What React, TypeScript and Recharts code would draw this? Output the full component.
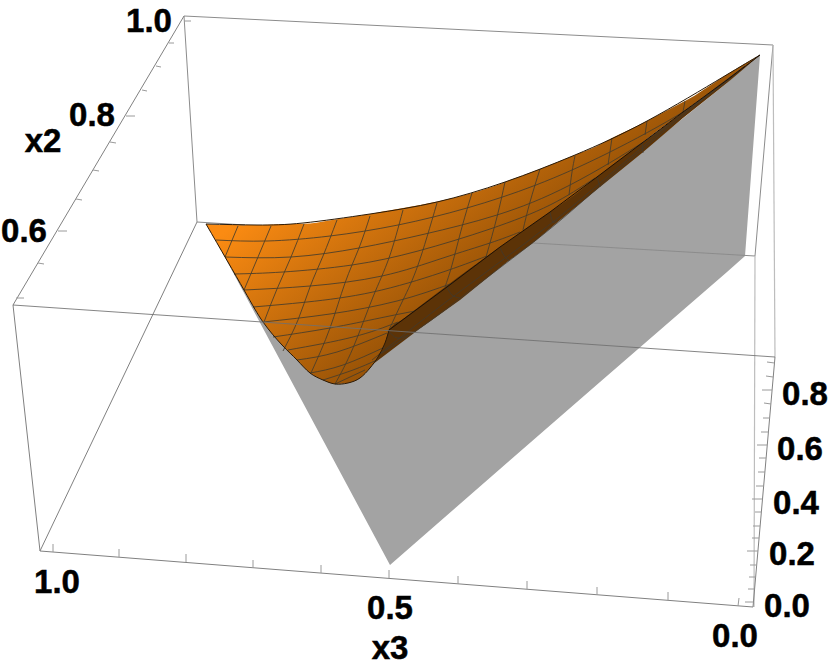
import React from "react";
import { ComposedChart, XAxis, YAxis, Area, Line, Scatter } from "recharts";

type Pt = [number, number];

// Projected picture coordinates (x across, y down)
const orangeX = [206,225,244,263,282,297,310,323,335,348,360,370,378,385,389,403,420,457,472,500,505,540,550,575,597,612,642,647,683,685,723,727,760];
const orangeTop = [224,225,225,225,224,224,223.5,221.5,219.5,217.5,215.5,214,212.5,211,210.5,208,205,197,193,184,182,169,165,155,146,138,123.5,121,102,101,77,74.5,55];
const orangeBottom = [224,257,290,322,345,360,373,380,384,383,378,368,357,343,330,319,306,278,267,247,243.5,219,212,194.5,177,165.5,143,139,112,110.5,83,80,55];

const brownX = [348,389,418,460,507,533,560,600,642,683,727,760];
const brownTop = [383,325,304,274,240,221,203,172,143,112,80,55];
const brownBottom = [383,352,330,300,262,243,220,187,153,118,83,55];

const grayX = [207,390,500,600,727,745,760];
const grayTop = [224,320,250,185,83,66,55];
const grayBottom = [224,565,469,382,272,256,55];

const edgeTop: Pt[] = [[206,224],[257,225],[303,223],[370,214],[437,202],[505,182],[575,155],[647,121],[723,77],[760,55]];
const edgeLower: Pt[] = [[206,224],[244,290],[263,322],[282,345],[297,360],[310,373],[323,380],[335,384],[348,383],[360,378],[370,368],[378,357],[385,343],[389,330]];
const edgeFold: Pt[] = [[389,330],[447,287],[500,247],[550,212],[597,177],[642,143],[683,112],[727,80],[760,55]];

const meshSteep: Pt[][] = [
  [[238,226],[225,257]],
  [[271,226],[258,257],[244,290]],
  [[304,224],[291,257],[277,289],[264,322]],
  [[337,220],[323,256],[310,287],[298,320],[283,351]],
  [[370,216],[359,248],[345,283],[330,328],[311,373]],
  [[403,210],[389,258],[373,297],[353,348],[335,384]],
  [[437,203],[418,265],[403,300],[388,332]],
  [[472,193],[462,227],[452,265],[445,287]],
  [[505,182],[497,217],[486,257]],
  [[540,169],[530,202],[523,230]],
  [[575,156],[572,172],[569,195]],
  [[612,138],[608,165]],
  [[647,121],[645,135]],
  [[685,101],[683,112]],
];
const meshFlat: Pt[][] = [
  [[216,240],[267,241],[330,236],[398,225],[467,208],[536,185],[608,153],[683,112],[730,79]],
  [[225,257],[291,257],[359,248],[425,234],[497,215],[570,185],[642,143],[668,125]],
  [[234,274],[283,272],[352,265],[418,251],[490,229],[550,205],[595,178]],
  [[244,290],[310,286],[382,276],[443,258],[490,243],[520,232]],
  [[253,307],[307,302],[373,292],[440,273],[487,256]],
  [[263,322],[330,314],[397,301],[453,283]],
  [[273,337],[330,328],[380,318],[415,311]],
  [[288,350],[353,337],[398,322]],
  [[297,360],[337,352],[387,333]],
  [[310,373],[343,365],[385,347]],
  [[323,380],[353,370],[377,360]],
  [[335,384],[365,370]],
];
const meshBrown: Pt[][] = [
  [[388,330],[397,338],[408,335]],
  [[447,287],[452,295],[460,298]],
  [[500,248],[505,257],[509,260]],
  [[550,212],[553,222],[557,220]],
  [[597,177],[600,187]],
  [[642,143],[643,153]],
  [[372,360],[420,322],[470,284],[540,232],[600,183],[680,116],[745,66]],
  [[380,354],[430,321],[480,283],[545,233],[600,186],[680,118],[745,66]],
];

const boxBack: Pt[][] = [
  [[184,16],[773,45]],
  [[184,16],[197,222]],
  [[773,45],[755,256]],
  [[197,222],[245,225]],
  [[533,243],[755,256]],
];
const boxLight: Pt[][] = [
  [[773,45],[775,357]],
  [[755,256],[754,607]],
];
const boxAxis: Pt[][] = [
  [[13,305],[184,16]],
  [[13,305],[40,551]],
  [[197,222],[40,551]],
  [[40,551],[753,607]],
  [[775,357],[753,607]],
];
const boxFront: Pt[] = [[13,305],[775,357]];

const ticksX3: Pt[][] = [
  [[53,552],[53,544]],[[119,557],[119,549]],[[186,562],[186,554]],[[253,568],[253,560]],
  [[321,573],[321,565]],[[389,578],[389,570]],[[458,584],[458,576]],[[527,589],[527,581]],
  [[597,595],[597,587]],[[668,600],[668,592]],[[738,606],[739,598]],
];
const ticksX2: Pt[][] = [
  [[16,298],[24,298]],[[38,263],[44,264]],[[58,231],[67,231]],[[76,199],[82,200]],
  [[93,170],[99,171]],[[110,142],[116,143]],[[126,116],[135,116]],[[142,90],[147,91]],
  [[156,66],[161,67]],[[169,43],[174,43]],[[184,21],[191,21]],
];
const ticksZ: Pt[][] = [
  [[774.5,363],[767,362]],[[773,377],[766,376]],[[772,390],[762,390]],[[771,404],[764,403]],
  [[770,418],[763,418]],[[768.5,432],[761,432]],[[767,445],[757,445]],[[766,458],[759,458]],
  [[765,472],[758,472]],[[763.5,486],[756,486]],[[762.5,499],[752,499]],[[761.5,512],[755,512]],
  [[760,526],[753,526]],[[759,538],[752,538]],[[758,551],[747,551]],[[756.5,565],[750,565]],
  [[755.5,577],[749,577]],[[754.5,589],[748,589]],[[753.5,602],[745,602]],
];

const labels = [
  { x: 149, y: 20, label: "1.0" },
  { x: 92, y: 114, label: "0.8" },
  { x: 43, y: 140, label: "x2" },
  { x: 24, y: 230, label: "0.6" },
  { x: 57, y: 581, label: "1.0" },
  { x: 390, y: 607, label: "0.5" },
  { x: 390, y: 647, label: "x3" },
  { x: 735, y: 635, label: "0.0" },
  { x: 787, y: 605, label: "0.0" },
  { x: 792, y: 553, label: "0.2" },
  { x: 796, y: 502, label: "0.4" },
  { x: 800, y: 448, label: "0.6" },
  { x: 805, y: 393, label: "0.8" },
];

const toRange = (xs: number[], a: number[], b: number[]) =>
  xs.map((x, i) => ({ x, range: [a[i], b[i]] }));
const toLine = (pts: Pt[]) => pts.map(([x, y]) => ({ x, y }));

const polyline = (pts: Pt[], key: string, stroke: string, width = 1, opacity = 1, curve: any = "linear") => (
  <Line
    key={key}
    data={toLine(pts)}
    dataKey="y"
    type={curve}
    stroke={stroke}
    strokeWidth={width}
    strokeOpacity={opacity}
    dot={false}
    activeDot={false}
    legendType="none"
    isAnimationActive={false}
  />
);

const LabelText = (p: any) => (
  <text
    x={p.cx}
    y={p.cy}
    textAnchor="middle"
    dominantBaseline="central"
    fontFamily="'Liberation Sans', Arial, sans-serif"
    fontWeight="bold"
    fontSize={33}
    fill="#000"
    stroke="#000"
    strokeWidth={0.5}
  >
    {p.payload.label}
  </text>
);

export default function App() {
  return (
    <div style={{ position: "absolute", left: 0, top: 0, width: 830, height: 666 }}>
      <ComposedChart width={830} height={666} margin={{ top: 0, right: 0, bottom: 0, left: 0 }}>
        <defs>
          <linearGradient id="surf" gradientUnits="userSpaceOnUse" x1={223} y1={233} x2={360} y2={411}>
            <stop offset="0" stopColor="#fb8b12" />
            <stop offset="1" stopColor="#8a4b05" />
          </linearGradient>
        </defs>
        <XAxis dataKey="x" type="number" domain={[0, 830]} hide allowDataOverflow />
        <YAxis type="number" domain={[0, 666]} reversed hide allowDataOverflow />

        <Area data={toRange(grayX, grayTop, grayBottom)} dataKey="range" type="linear" fill="#a3a3a3" fillOpacity={1} stroke="none" dot={false} activeDot={false} isAnimationActive={false} />
        <Area data={toRange(brownX, brownTop, brownBottom)} dataKey="range" type="linear" fill="#5c3307" fillOpacity={1} stroke="none" dot={false} activeDot={false} isAnimationActive={false} />
        <Area data={toRange(orangeX, orangeTop, orangeBottom)} dataKey="range" type="monotone" fill="url(#surf)" fillOpacity={1} stroke="none" dot={false} activeDot={false} isAnimationActive={false} />

        {boxBack.map((l, i) => polyline(l, `back${i}`, "#8c8c8c"))}
        {boxLight.map((l, i) => polyline(l, `light${i}`, "#bdbdbd", 1.2))}
        {boxAxis.map((l, i) => polyline(l, `axis${i}`, "#808080"))}
        {ticksX3.map((l, i) => polyline(l, `tx${i}`, "#9a9a9a"))}
        {ticksX2.map((l, i) => polyline(l, `ty${i}`, "#9a9a9a"))}
        {ticksZ.map((l, i) => polyline(l, `tz${i}`, "#9a9a9a"))}

        {meshBrown.map((l, i) => polyline(l, `mb${i}`, "#3f3a30", 1, 0.75, "natural"))}
        {meshSteep.map((l, i) => polyline(l, `ms${i}`, "#453c2c", 1, 0.85, "natural"))}
        {meshFlat.map((l, i) => polyline(l, `mf${i}`, "#453c2c", 1, 0.85, "natural"))}
        {polyline(edgeTop, "et", "#2a1a08", 1, 1, "natural")}
        {polyline(edgeLower, "el", "#2a1a08", 1, 1, "natural")}
        {polyline(edgeFold, "ef", "#1c1006", 1)}
        {polyline(boxFront, "front", "#707070", 1, 0.85)}

        <Scatter data={labels} dataKey="y" shape={LabelText} legendType="none" isAnimationActive={false} />
      </ComposedChart>
    </div>
  );
}
